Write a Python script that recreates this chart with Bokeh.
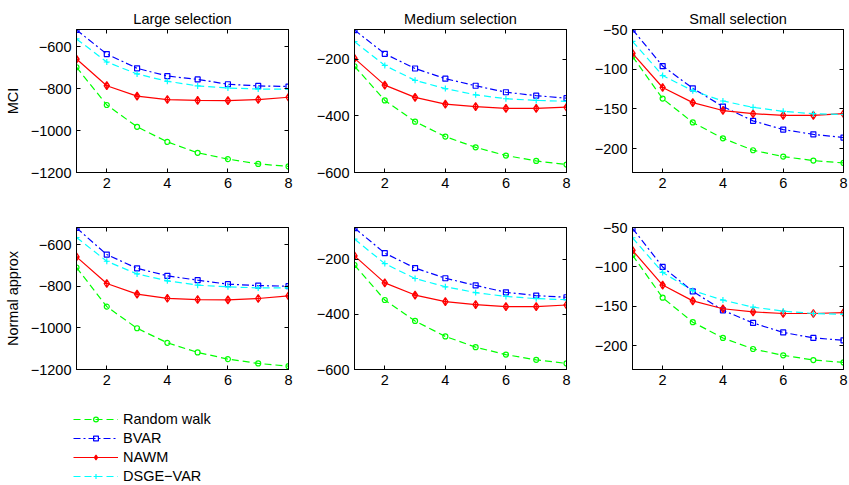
from bokeh.plotting import figure
from bokeh.layouts import row, column
from bokeh.models import Range1d, LinearAxis, FixedTicker, Legend, LegendItem, Title
from bokeh.embed import file_html
from bokeh.resources import INLINE

# ---------------- data ----------------
horizons = [1, 2, 3, 4, 5, 6, 7, 8]
x_ticks = [2, 4, 6, 8]
col_titles = ["Large selection", "Medium selection", "Small selection"]
row_labels = ["MCI", "Normal approx"]
series_names = ["Random walk", "BVAR", "NAWM", "DSGE\u2212VAR"]

# Row 1: MCI
large_mci_rw = [-698, -878, -982, -1054, -1106, -1136, -1159, -1171]
large_mci_bvar = [-520, -635, -703, -740, -756, -779, -787, -790]
large_mci_nawm = [-659, -786, -836, -852, -856, -857, -852, -841]
large_mci_dsge = [-563, -673, -730, -765, -787, -797, -802, -802]

medium_mci_rw = [-224, -345, -420, -473, -511, -540, -559, -572]
medium_mci_bvar = [-96, -180, -232, -268, -293, -316, -328, -337]
medium_mci_nawm = [-196, -291, -334, -358, -367, -373, -373, -369]
medium_mci_dsge = [-137, -221, -274, -303, -325, -339, -345, -348]

small_mci_rw = [-84, -137, -167, -187, -202, -210, -215, -218]
small_mci_bvar = [-50, -96, -124, -147, -165, -176, -182, -186]
small_mci_nawm = [-80, -123, -142, -152, -156, -158, -158, -156]
small_mci_dsge = [-65, -108, -127, -140, -148, -153, -156, -157]

# Row 2: Normal approx
large_na_rw = [-710, -898, -1002, -1072, -1118, -1150, -1171, -1184]
large_na_bvar = [-520, -648, -714, -750, -771, -790, -797, -800]
large_na_nawm = [-659, -787, -838, -858, -864, -866, -859, -846]
large_na_dsge = [-566, -680, -741, -774, -795, -803, -808, -808]

medium_na_rw = [-221, -348, -424, -480, -519, -546, -565, -578]
medium_na_bvar = [-87, -178, -232, -269, -295, -320, -332, -338]
medium_na_nawm = [-188, -286, -330, -354, -365, -372, -372, -366]
medium_na_dsge = [-127, -216, -270, -300, -321, -335, -343, -347]

small_na_rw = [-85, -139, -170, -190, -204, -212, -218, -221]
small_na_bvar = [-51, -100, -131, -155, -171, -183, -190, -193]
small_na_nawm = [-79, -123, -143, -153, -157, -159, -159, -158]
small_na_dsge = [-63, -107, -130, -142, -151, -156, -159, -160]

y_ticks_large = [-1200, -1000, -800, -600]
y_labels_large = ["\u22121200", "\u22121000", "\u2212800", "\u2212600"]
y_ticks_medium = [-600, -400, -200]
y_labels_medium = ["\u2212600", "\u2212400", "\u2212200"]
y_ticks_small = [-200, -150, -100, -50]
y_labels_small = ["\u2212200", "\u2212150", "\u2212100", "\u221250"]

y_range_large_mci = (-1200, -518)
y_range_medium_mci = (-600, -94)
y_range_small_mci = (-230, -50)
y_range_large_na = (-1200, -518)
y_range_medium_na = (-600, -85)
y_range_small_na = (-230, -50)

# ---------------- styling ----------------
FONT = "Liberation Sans"
FS = "14.5px"
styles = [
    dict(color="#00ff00", dash="7 4", marker="circle", size=5),
    dict(color="#0000ff", dash="7 3 2 3", marker="square", size=5),
    dict(color="#ff0000", dash="solid", marker="diamond_cross", size=8),
    dict(color="#00ffff", dash="7 4", marker="cross", size=6),
]

panels = [
    [
        (large_mci_rw, large_mci_bvar, large_mci_nawm, large_mci_dsge, y_range_large_mci, y_ticks_large, y_labels_large),
        (medium_mci_rw, medium_mci_bvar, medium_mci_nawm, medium_mci_dsge, y_range_medium_mci, y_ticks_medium, y_labels_medium),
        (small_mci_rw, small_mci_bvar, small_mci_nawm, small_mci_dsge, y_range_small_mci, y_ticks_small, y_labels_small),
    ],
    [
        (large_na_rw, large_na_bvar, large_na_nawm, large_na_dsge, y_range_large_na, y_ticks_large, y_labels_large),
        (medium_na_rw, medium_na_bvar, medium_na_nawm, medium_na_dsge, y_range_medium_na, y_ticks_medium, y_labels_medium),
        (small_na_rw, small_na_bvar, small_na_nawm, small_na_dsge, y_range_small_na, y_ticks_small, y_labels_small),
    ],
]

FRAME_W = [212, 212, 211]
FRAME_H = [143, 142]
LEFT = [76, 60, 60]
RIGHT = [6, 6, 6]
TOP = [29, 6]
BOTTOM = [49, 30]


def style_axis(ax, ticks, labels=None, show_labels=True):
    ax.ticker = FixedTicker(ticks=ticks)
    ax.major_tick_in = 4
    ax.major_tick_out = 0
    ax.minor_tick_line_color = None
    ax.axis_line_color = "black"
    ax.axis_line_width = 1
    ax.major_tick_line_color = "black"
    ax.major_label_text_font = FONT
    ax.major_label_text_color = "black"
    ax.major_label_text_font_size = FS
    ax.major_label_standoff = 5
    if labels is not None:
        ax.major_label_overrides = {t: l for t, l in zip(ticks, labels)}
    if not show_labels:
        ax.major_label_text_font_size = "0px"
        ax.major_label_text_color = None
        ax.major_label_standoff = 0


def add_series(p, ys_list, visible=True):
    items = []
    for name, ys, st in zip(series_names, ys_list, styles):
        lr = p.line(horizons, ys, line_color=st["color"], line_width=1.2,
                    line_dash=st["dash"], visible=visible)
        sr = p.scatter(horizons, ys, marker=st["marker"], size=st["size"],
                       line_color=st["color"], fill_color=None, line_width=1.2,
                       visible=visible)
        items.append(LegendItem(label=name, renderers=[lr, sr]))
    return items


rows = []
for ri in range(2):
    figs = []
    for ci in range(3):
        rw, bvar, nawm, dsge, yr, yt, yl = panels[ri][ci]
        p = figure(
            frame_width=FRAME_W[ci], frame_height=FRAME_H[ri],
            x_range=Range1d(1, 8), y_range=Range1d(*yr),
            output_backend="svg", toolbar_location=None,
            min_border_left=LEFT[ci], min_border_right=RIGHT[ci],
            min_border_top=TOP[ri], min_border_bottom=BOTTOM[ri],
            background_fill_color="white", border_fill_color="white",
        )
        p.grid.visible = False
        p.outline_line_color = "black"
        p.outline_line_width = 1

        style_axis(p.xaxis[0], x_ticks)
        style_axis(p.yaxis[0], yt, yl)
        top_ax = LinearAxis()
        style_axis(top_ax, x_ticks, show_labels=False)
        p.add_layout(top_ax, "above")
        right_ax = LinearAxis()
        style_axis(right_ax, yt, show_labels=False)
        p.add_layout(right_ax, "right")

        if ri == 0:
            p.add_layout(Title(text=col_titles[ci], align="center", text_font=FONT,
                               text_font_size=FS, text_font_style="normal",
                               text_color="black", standoff=6), "above")
        if ci == 0:
            p.yaxis[0].axis_label = row_labels[ri]
            p.yaxis[0].axis_label_text_font = FONT
            p.yaxis[0].axis_label_text_font_size = FS
            p.yaxis[0].axis_label_text_font_style = "normal"
            p.yaxis[0].axis_label_text_color = "black"
            p.yaxis[0].axis_label_standoff = 7

        add_series(p, [rw, bvar, nawm, dsge])
        figs.append(p)
    rows.append(row(*figs, spacing=0))

# ---------------- legend strip (below the panels) ----------------
lp = figure(frame_width=300, frame_height=86, x_range=Range1d(1, 8),
            y_range=Range1d(*y_range_large_na),
            output_backend="svg", toolbar_location=None,
            x_axis_location=None, y_axis_location=None,
            min_border_left=0, min_border_right=0, min_border_top=0, min_border_bottom=0,
            background_fill_color="white", border_fill_color="white")
lp.grid.visible = False
lp.outline_line_color = None
leg_items = add_series(lp, [large_na_rw, large_na_bvar, large_na_nawm, large_na_dsge],
                       visible=False)
leg = Legend(items=leg_items, location=(73, 0), orientation="vertical",
             margin=0, padding=0, spacing=0,
             glyph_width=45, glyph_height=12, label_height=19,
             label_standoff=5, label_text_font=FONT,
             label_text_font_size=FS, label_text_color="black",
             border_line_color=None, background_fill_alpha=0)
lp.add_layout(leg, "center")

layout = column(*rows, lp, spacing=0)

with open("out.html", "w") as f:
    f.write(file_html(layout, INLINE))
